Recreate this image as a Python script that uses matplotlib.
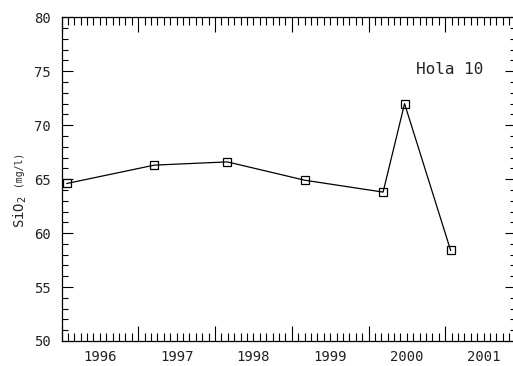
import matplotlib
matplotlib.use("Agg")
import matplotlib.pyplot as plt
from matplotlib.ticker import MultipleLocator, FixedLocator, NullFormatter

# Data (decimal years, SiO2 mg/l)
years = [1996.07, 1997.21, 1998.16, 1999.17, 2000.19, 2000.47, 2001.07]
sio2 = [64.6, 66.3, 66.6, 64.9, 63.8, 72.0, 58.4]
year_labels = ["1996", "1997", "1998", "1999", "2000", "2001"]
label_pos = [1996.5, 1997.5, 1998.5, 1999.5, 2000.5, 2001.5]
y_ticks = [50, 55, 60, 65, 70, 75, 80]

W, H = 513, 366
fig = plt.figure(figsize=(W / 100, H / 100), dpi=100)
left_px, right_px = 61.5, 516.0
top_px, bot_px = 17.3, 341.0
ax = fig.add_axes([left_px / W, (H - bot_px) / H, (right_px - left_px) / W, (bot_px - top_px) / H])

ax.plot(years, sio2, color="black", lw=0.9, marker="s", markersize=6.2,
        markerfacecolor="none", markeredgecolor="black", markeredgewidth=0.9)

x_max = 1996 + (right_px - left_px) / 76.75
ax.set_xlim(1996, x_max)
ax.set_ylim(50, 80)

mono = "DejaVu Sans Mono"
# y ticks
ax.yaxis.set_major_locator(FixedLocator(y_ticks))
ax.yaxis.set_minor_locator(MultipleLocator(1))
ax.set_yticklabels([str(v) for v in y_ticks], fontfamily=mono, fontsize=10, color="#222222")
# x ticks: majors at year boundaries, labels centered in the year
ax.xaxis.set_major_locator(MultipleLocator(1))
ax.xaxis.set_minor_locator(MultipleLocator(1 / 12))
ax.xaxis.set_major_formatter(NullFormatter())
for p, t in zip(label_pos, year_labels):
    ax.text(p, -16 / (bot_px - top_px), t, transform=ax.get_xaxis_transform(), ha="center", va="center",
            fontfamily=mono, fontsize=10, color="#222222")

ax.tick_params(axis="both", which="both", direction="in", top=True, right=True, color="black", width=0.8)
ax.tick_params(axis="x", which="major", length=11)
ax.tick_params(axis="x", which="minor", length=6)
ax.tick_params(axis="y", which="major", length=8, pad=8)
ax.tick_params(axis="y", which="minor", length=4.5)
for s in ax.spines.values():
    s.set_linewidth(0.9)

ax.text(416 / W, (H - 70) / H, "Hola 10", transform=fig.transFigure, ha="left", va="center",
        fontfamily=mono, fontsize=11.5, color="#222222")

fig.text(20 / W, (H - 212) / H, "SiO$_2$", rotation=90, ha="center", va="center",
         fontfamily=mono, fontsize=10, color="#222222")
fig.text(18 / W, (H - 168) / H, "(mg/l)", rotation=90, ha="center", va="center",
         fontfamily=mono, fontsize=7, color="#222222")

fig.savefig("out.png", dpi=100)
